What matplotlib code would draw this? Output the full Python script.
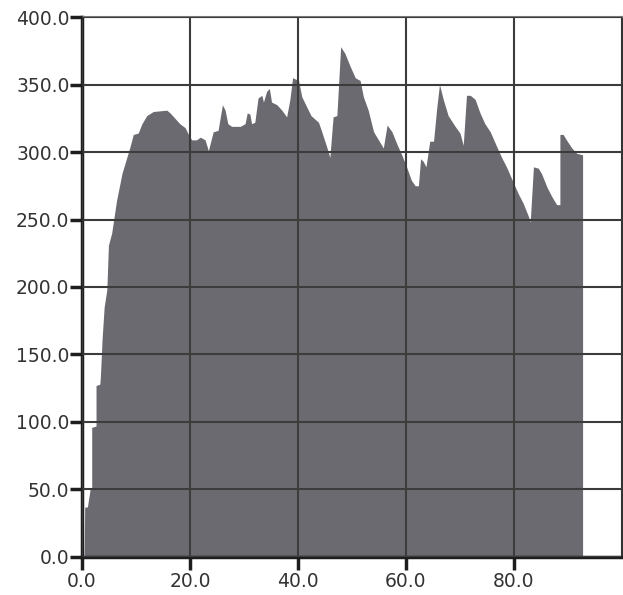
import matplotlib
matplotlib.use("Agg")
import matplotlib.pyplot as plt

# profile read along the top edge of the filled region
pos = [0.4, 0.5, 1.0, 1.5, 1.8, 1.8, 2.6, 2.6, 3.3, 3.4, 3.6, 3.7, 4.1, 4.6, 4.9,
       5.5, 6.4, 7.4, 8.3, 8.9, 9.5, 10.4, 11.1, 12.0, 13.2, 15.7, 16.3, 17.2,
       18.1, 19.1, 19.6, 20.3, 21.2, 21.9, 22.8, 23.4, 24.3, 25.2, 26.0, 26.5,
       27.0, 27.7, 29.3, 30.2, 30.6, 31.1, 31.4, 32.0, 32.6, 33.3, 33.6, 34.2,
       34.7, 35.1, 36.1, 37.0, 37.9, 38.5, 39.0, 40.1, 40.7, 41.3, 42.4, 43.8,
       44.4, 45.3, 45.9, 46.5, 47.2, 47.9, 48.7, 49.6, 50.6, 51.5, 52.1, 53.0,
       54.0, 54.9, 55.8, 56.5, 57.4, 58.3, 59.2, 60.1, 61.0, 61.7, 62.3, 62.7,
       63.2, 63.7, 64.4, 65.1, 65.7, 66.2, 66.9, 67.8, 69.1, 70.0, 70.6, 71.2,
       71.9, 72.8, 73.7, 74.6, 75.6, 76.8, 77.7, 78.6, 79.8, 80.8, 81.7, 82.7,
       83.0, 83.6, 84.5, 85.1, 86.1, 87.0, 87.9, 88.5, 88.5, 89.1, 89.7, 90.7,
       91.6, 92.7, 92.7]
counts = [0, 37, 37, 50, 50, 96, 97, 127, 128, 133, 150, 160, 185, 198, 231,
          240, 264, 284, 296, 304, 313, 314, 321, 327, 330, 331, 329, 325,
          321, 318, 314, 309, 309, 311, 309, 301, 315, 316, 335, 331,
          321, 319, 319, 321, 329, 328, 321, 322, 340, 342, 337, 345,
          347, 337, 335, 331, 326, 339, 355, 353, 341, 336, 327, 322,
          315, 304, 296, 326, 327, 378, 373, 364, 355, 353, 341, 331,
          315, 309, 303, 320, 315, 306, 298, 289, 279, 275, 275, 295,
          293, 289, 308, 308, 333, 350, 339, 327, 319, 314, 305, 342,
          342, 339, 329, 321, 315, 304, 296, 289, 278, 269, 262, 252,
          248, 289, 288, 284, 274, 267, 261, 261, 313, 313, 309, 303,
          299, 298, 0]

x_ticks = [0, 20, 40, 60, 80]
y_ticks = [0, 50, 100, 150, 200, 250, 300, 350, 400]

fig = plt.figure(figsize=(6.23, 5.95), dpi=100)
ax = fig.add_axes([0.1316, 0.0639, 0.8668, 0.9075])

ax.fill_between(pos, counts, 0, color="#6b6a70", linewidth=0, zorder=1)

ax.set_xlim(0, 100)
ax.set_ylim(0, 400)
ax.set_xticks(x_ticks)
ax.set_yticks(y_ticks)
ax.set_xticklabels([f"{v:.1f}" for v in x_ticks])
ax.set_yticklabels([f"{v:.1f}" for v in y_ticks])

ax.grid(True, color="#3c3c3c", linewidth=1.5, zorder=2)
ax.set_axisbelow(False)

for side in ("left", "bottom"):
    ax.spines[side].set_linewidth(2.5)
    ax.spines[side].set_color("#1e1e1e")
ax.spines["top"].set_color("#777777")
ax.spines["top"].set_linewidth(1.5)
ax.spines["right"].set_color("#333333")
ax.spines["right"].set_linewidth(1.5)

ax.tick_params(axis="both", length=9, width=2.5, color="#1e1e1e",
               labelsize=13.5, labelcolor="#333333")
ax.tick_params(axis="y", pad=0)
ax.tick_params(axis="x", pad=2)

fig.savefig("out.png", dpi=100)
